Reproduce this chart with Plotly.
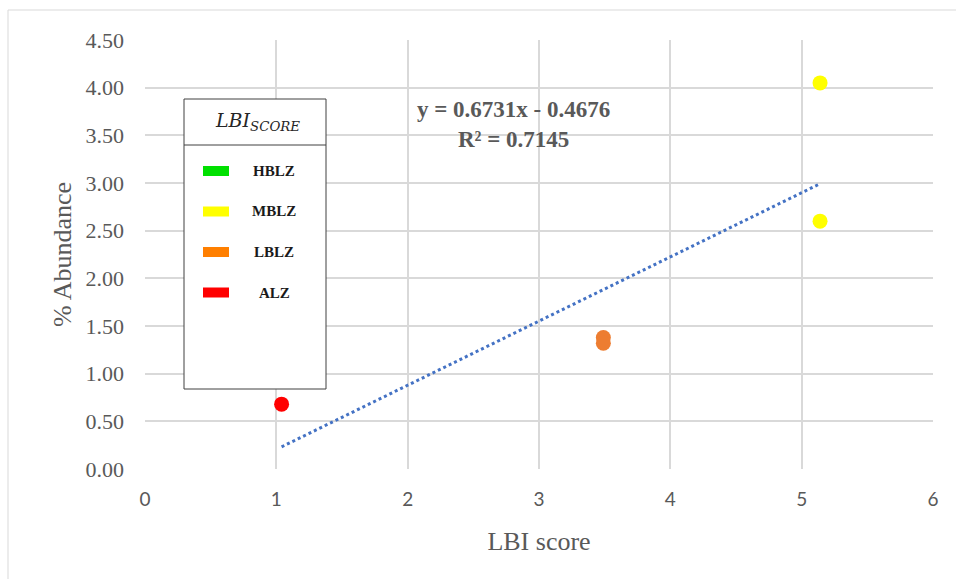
import plotly.graph_objects as go

# LBI score vs % abundance, grouped by zone class
zone_names = ["ALZ", "LBLZ", "LBLZ", "MBLZ", "MBLZ"]
lbi_score = [1.04, 3.49, 3.49, 5.14, 5.14]
abundance = [0.68, 1.38, 1.32, 4.05, 2.60]
point_colors = ["#FF0000", "#ED7D31", "#ED7D31", "#FFFF00", "#FFFF00"]

# Linear trendline coefficients
slope = 0.6731
intercept = -0.4676
r_squared = 0.7145

# Legend key entries
legend_labels = ["HBLZ", "MBLZ", "LBLZ", "ALZ"]
legend_colors = ["#00E000", "#FFFF00", "#FF7F00", "#FF0000"]

x_ticks = [0, 1, 2, 3, 4, 5, 6]
y_ticks = [0, 0.5, 1.0, 1.5, 2.0, 2.5, 3.0, 3.5, 4.0, 4.5]

W, H = 956, 579
L, R, T, B = 145, 23, 40, 110
PW, PH = W - L - R, H - T - B


def px(x):
    return (x - L) / PW


def py(y):
    return (H - B - y) / PH


fig = go.Figure()

x0, x1 = min(lbi_score), max(lbi_score)
fig.add_trace(go.Scatter(
    x=[x0, x1], y=[slope * x0 + intercept, slope * x1 + intercept],
    mode="lines", line=dict(color="#4472C4", width=3, dash="dot"),
    hoverinfo="skip", showlegend=False,
))

fig.add_trace(go.Scatter(
    x=lbi_score, y=abundance, mode="markers",
    marker=dict(size=15, color=point_colors, line=dict(width=0)),
    text=zone_names, showlegend=False,
))

sign = "-" if intercept < 0 else "+"
fig.add_annotation(
    x=px(513), y=py(125), xref="paper", yref="paper", showarrow=False,
    xanchor="center", yanchor="middle",
    text=f"<b>y = {slope:.4f}x {sign} {abs(intercept):.4f}<br>R² = {r_squared:.4f}</b>",
    font=dict(family="Liberation Serif", size=23, color="#595959"),
    align="center",
)

# Key box
bx0, bx1, by0, by1 = 184, 326, 99, 389
fig.add_shape(type="rect", xref="paper", yref="paper",
              x0=px(bx0), x1=px(bx1), y0=py(by1), y1=py(by0),
              line=dict(color="#404040", width=1), fillcolor="white", layer="above")
fig.add_shape(type="line", xref="paper", yref="paper",
              x0=px(bx0), x1=px(bx1), y0=py(145), y1=py(145),
              line=dict(color="#404040", width=1), layer="above")
fig.add_annotation(
    x=px(257), y=py(122), xref="paper", yref="paper", showarrow=False,
    xanchor="center", yanchor="middle",
    text="<i>LBI<sub>SCORE</sub></i>",
    font=dict(family="DejaVu Serif", size=19, color="#262626"),
)
for i, (lab, col) in enumerate(zip(legend_labels, legend_colors)):
    yc = 171 + i * 40.5
    fig.add_shape(type="rect", xref="paper", yref="paper",
                  x0=px(203), x1=px(229), y0=py(yc + 5), y1=py(yc - 5),
                  line=dict(width=0), fillcolor=col, layer="above")
    fig.add_annotation(
        x=px(274), y=py(yc), xref="paper", yref="paper", showarrow=False,
        xanchor="center", yanchor="middle",
        text=f"<b>{lab}</b>",
        font=dict(family="Liberation Serif", size=15, color="#1a1a1a"),
    )

# Outer chart border
fig.add_shape(type="rect", xref="paper", yref="paper",
              x0=px(8), x1=px(W + 5), y0=py(H + 5), y1=py(10),
              line=dict(color="#D9D9D9", width=1), fillcolor="rgba(0,0,0,0)",
              layer="below")

fig.update_layout(
    width=W, height=H,
    margin=dict(l=L, r=R, t=T, b=B),
    paper_bgcolor="white", plot_bgcolor="white",
    xaxis=dict(
        range=[0, 6], tickvals=x_ticks, ticktext=[str(v) for v in x_ticks],
        showgrid=True, gridcolor="#D9D9D9", gridwidth=2,
        zeroline=False, showline=False, ticks="", ticklabelstandoff=17,
        tickfont=dict(family="Lato", size=19, color="#595959"),
        title=dict(text="LBI score", font=dict(family="Liberation Serif", size=26, color="#595959"), standoff=22),
    ),
    yaxis=dict(
        range=[0, 4.5], tickvals=y_ticks, ticktext=[f"{v:.2f}" for v in y_ticks],
        showgrid=True, gridcolor="#D9D9D9", gridwidth=2,
        zeroline=False, showline=False, ticks="", ticklabelstandoff=20,
        tickfont=dict(family="Liberation Serif", size=22, color="#595959"),
        title=dict(text="% Abundance", font=dict(family="Liberation Serif", size=26, color="#595959"), standoff=6),
    ),
)

fig.write_html("out.html")
